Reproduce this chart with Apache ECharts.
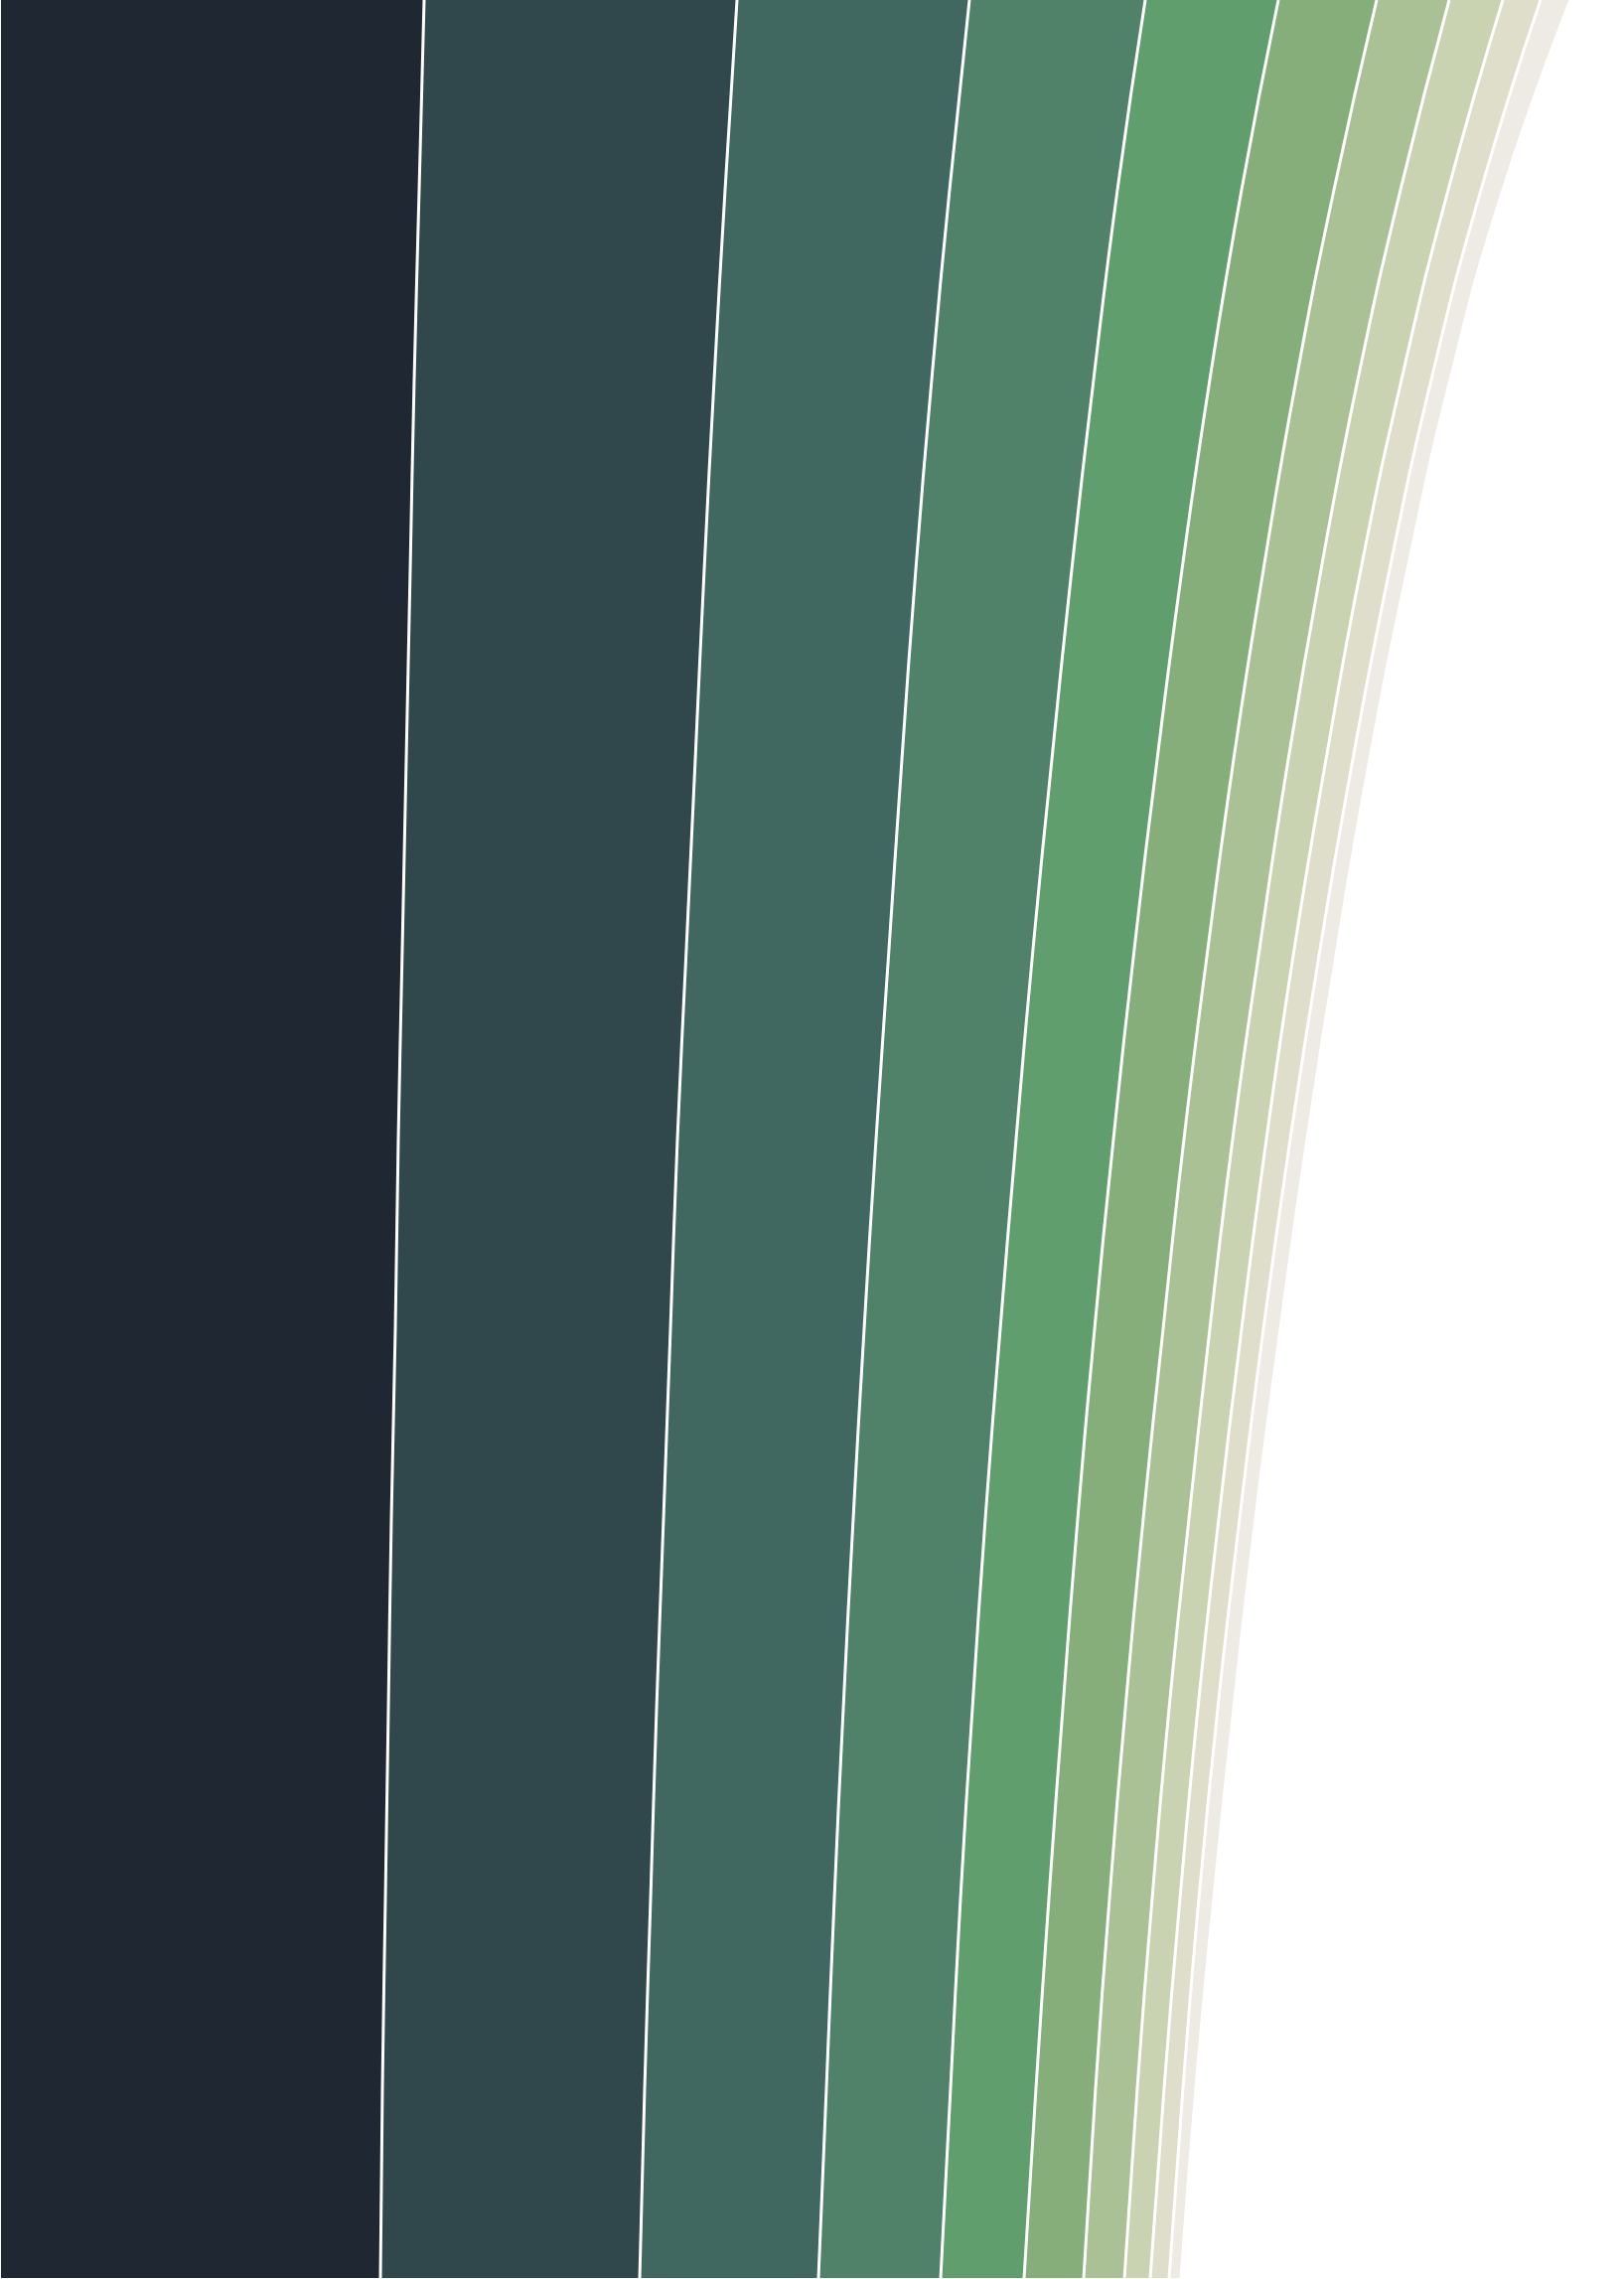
<!DOCTYPE html>
<html>
<head>
<meta charset="utf-8">
<script src="https://cdn.jsdelivr.net/npm/echarts@6/dist/echarts.min.js"></script>
<style>
  html, body { margin: 0; padding: 0; background: #fff; }
  #main { width: 1635px; height: 2294px; }
</style>
</head>
<body>
<div id="main"></div>
<script>
// 行（从上到下）
var rows = ['r1', 'r2', 'r3', 'r4', 'r5', 'r6', 'r7', 'r8', 'r9', 'r10', 'r11', 'r12', 'r13'];

// 各层宽度（从左到右堆叠）
var band1 = [426, 421, 416, 412, 408, 404, 400, 397, 393, 390, 387, 384, 382];
var band2 = [315, 308, 302, 296, 291, 286, 281, 277, 274, 270, 267, 264, 261];
var band3 = [234, 226, 219, 213, 208, 204, 200, 195, 191, 188, 185, 183, 180];
var band4 = [177, 169, 163, 157, 151, 145, 141, 137, 133, 130, 127, 125, 123];
var band5 = [134, 125, 117, 111, 106, 102, 98, 95, 93, 91, 89, 86, 84];
var band6 = [99, 93, 87, 82, 77, 74, 71, 69, 66, 63, 61, 60, 60];
var band7 = [73, 67, 62, 58, 55, 52, 49, 47, 46, 44, 43, 42, 41];
var band8 = [54, 48, 44, 40, 38, 35, 34, 32, 30, 29, 28, 27, 26];
var band9 = [38, 33, 30, 29, 27, 26, 24, 22, 21, 20, 19, 19, 19];
var band10 = [30, 22, 19, 18, 17, 17, 17, 17, 16, 16, 15, 13, 12];

var bands = [band1, band2, band3, band4, band5, band6, band7, band8, band9, band10];
var colors = ['#1f2732', '#30474c', '#406860', '#508169', '#619e6d',
              '#85ae7b', '#a9c195', '#c9d2b1', '#dfdecb', '#eeebe5'];

var chart = echarts.init(document.getElementById('main'));

var series = bands.map(function (d, i) {
  return {
    name: 'band' + (i + 1),
    type: 'line',
    stack: 'total',
    smooth: true,
    showSymbol: false,
    z: 20 - i,
    data: d,
    lineStyle: { color: '#fff', width: 3 },
    itemStyle: { color: colors[i] },
    areaStyle: { color: colors[i], opacity: 1 }
  };
});

var option = {
  animation: false,
  backgroundColor: '#fff',
  grid: { left: 1, right: 0, top: 0, bottom: 1 },
  xAxis: {
    type: 'value',
    min: 0,
    max: 1634,
    show: false
  },
  yAxis: {
    type: 'category',
    data: rows,
    inverse: true,
    boundaryGap: false,
    show: false
  },
  series: series
};

chart.setOption(option);
</script>
</body>
</html>
